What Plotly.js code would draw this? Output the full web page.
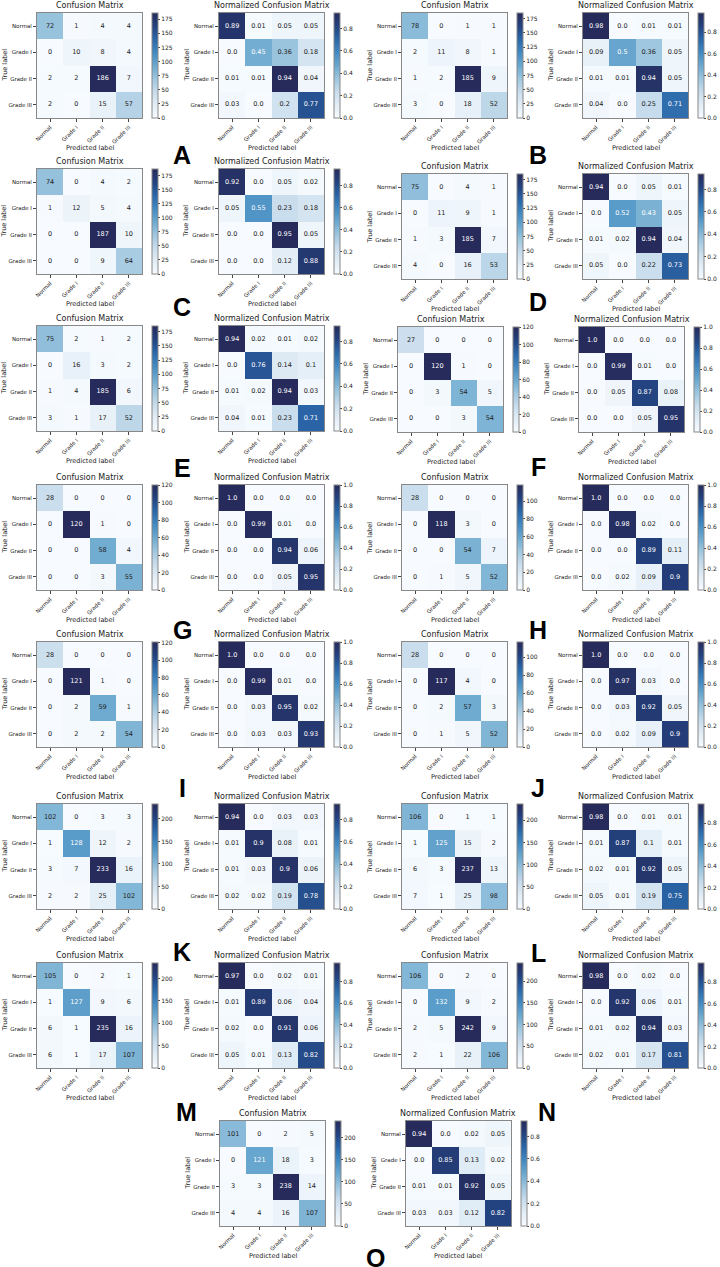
<!DOCTYPE html>
<html>
<head>
<meta charset="utf-8">
<script src="https://cdn.plot.ly/plotly-3.0.1.min.js"></script>
<style>
  html, body { margin: 0; padding: 0; background: #fff; }
  #chart { width: 720px; height: 1267px; }
</style>
</head>
<body>
<div id="chart"></div>
<script>
var labels = ['Normal', 'Grade I', 'Grade II', 'Grade III'];

var cmA = [[72, 1, 4, 4], [0, 10, 8, 4], [2, 2, 186, 7], [2, 0, 15, 57]];
var ncmA = [[0.89, 0.01, 0.05, 0.05], [0.0, 0.45, 0.36, 0.18], [0.01, 0.01, 0.94, 0.04], [0.03, 0.0, 0.2, 0.77]];
var cmB = [[78, 0, 1, 1], [2, 11, 8, 1], [1, 2, 185, 9], [3, 0, 18, 52]];
var ncmB = [[0.98, 0.0, 0.01, 0.01], [0.09, 0.5, 0.36, 0.05], [0.01, 0.01, 0.94, 0.05], [0.04, 0.0, 0.25, 0.71]];
var cmC = [[74, 0, 4, 2], [1, 12, 5, 4], [0, 0, 187, 10], [0, 0, 9, 64]];
var ncmC = [[0.92, 0.0, 0.05, 0.02], [0.05, 0.55, 0.23, 0.18], [0.0, 0.0, 0.95, 0.05], [0.0, 0.0, 0.12, 0.88]];
var cmD = [[75, 0, 4, 1], [0, 11, 9, 1], [1, 3, 185, 7], [4, 0, 16, 53]];
var ncmD = [[0.94, 0.0, 0.05, 0.01], [0.0, 0.52, 0.43, 0.05], [0.01, 0.02, 0.94, 0.04], [0.05, 0.0, 0.22, 0.73]];
var cmE = [[75, 2, 1, 2], [0, 16, 3, 2], [1, 4, 185, 6], [3, 1, 17, 52]];
var ncmE = [[0.94, 0.02, 0.01, 0.02], [0.0, 0.76, 0.14, 0.1], [0.01, 0.02, 0.94, 0.03], [0.04, 0.01, 0.23, 0.71]];
var cmF = [[27, 0, 0, 0], [0, 120, 1, 0], [0, 3, 54, 5], [0, 0, 3, 54]];
var ncmF = [[1.0, 0.0, 0.0, 0.0], [0.0, 0.99, 0.01, 0.0], [0.0, 0.05, 0.87, 0.08], [0.0, 0.0, 0.05, 0.95]];
var cmG = [[28, 0, 0, 0], [0, 120, 1, 0], [0, 0, 58, 4], [0, 0, 3, 55]];
var ncmG = [[1.0, 0.0, 0.0, 0.0], [0.0, 0.99, 0.01, 0.0], [0.0, 0.0, 0.94, 0.06], [0.0, 0.0, 0.05, 0.95]];
var cmH = [[28, 0, 0, 0], [0, 118, 3, 0], [0, 0, 54, 7], [0, 1, 5, 52]];
var ncmH = [[1.0, 0.0, 0.0, 0.0], [0.0, 0.98, 0.02, 0.0], [0.0, 0.0, 0.89, 0.11], [0.0, 0.02, 0.09, 0.9]];
var cmI = [[28, 0, 0, 0], [0, 121, 1, 0], [0, 2, 59, 1], [0, 2, 2, 54]];
var ncmI = [[1.0, 0.0, 0.0, 0.0], [0.0, 0.99, 0.01, 0.0], [0.0, 0.03, 0.95, 0.02], [0.0, 0.03, 0.03, 0.93]];
var cmJ = [[28, 0, 0, 0], [0, 117, 4, 0], [0, 2, 57, 3], [0, 1, 5, 52]];
var ncmJ = [[1.0, 0.0, 0.0, 0.0], [0.0, 0.97, 0.03, 0.0], [0.0, 0.03, 0.92, 0.05], [0.0, 0.02, 0.09, 0.9]];
var cmK = [[102, 0, 3, 3], [1, 128, 12, 2], [3, 7, 233, 16], [2, 2, 25, 102]];
var ncmK = [[0.94, 0.0, 0.03, 0.03], [0.01, 0.9, 0.08, 0.01], [0.01, 0.03, 0.9, 0.06], [0.02, 0.02, 0.19, 0.78]];
var cmL = [[106, 0, 1, 1], [1, 125, 15, 2], [6, 3, 237, 13], [7, 1, 25, 98]];
var ncmL = [[0.98, 0.0, 0.01, 0.01], [0.01, 0.87, 0.1, 0.01], [0.02, 0.01, 0.92, 0.05], [0.05, 0.01, 0.19, 0.75]];
var cmM = [[105, 0, 2, 1], [1, 127, 9, 6], [6, 1, 235, 16], [6, 1, 17, 107]];
var ncmM = [[0.97, 0.0, 0.02, 0.01], [0.01, 0.89, 0.06, 0.04], [0.02, 0.0, 0.91, 0.06], [0.05, 0.01, 0.13, 0.82]];
var cmN = [[106, 0, 2, 0], [0, 132, 9, 2], [2, 5, 242, 9], [2, 1, 22, 106]];
var ncmN = [[0.98, 0.0, 0.02, 0.0], [0.0, 0.92, 0.06, 0.01], [0.01, 0.02, 0.94, 0.03], [0.02, 0.01, 0.17, 0.81]];
var cmO = [[101, 0, 2, 5], [0, 121, 18, 3], [3, 3, 238, 14], [4, 4, 16, 107]];
var ncmO = [[0.94, 0.0, 0.02, 0.05], [0.0, 0.85, 0.13, 0.02], [0.01, 0.01, 0.92, 0.05], [0.03, 0.03, 0.12, 0.82]];

// panel placement in pixels: left edge of CM and NCM heatmaps, top edge, letter position
var panels = [
  {id: 'A', cm: cmA, ncm: ncmA, cx: 37,  nx: 219, top: 13,   lx: 182, ly: 155},
  {id: 'B', cm: cmB, ncm: ncmB, cx: 402, nx: 583, top: 13,   lx: 538, ly: 155},
  {id: 'C', cm: cmC, ncm: ncmC, cx: 37,  nx: 219, top: 169,  lx: 182, ly: 307},
  {id: 'D', cm: cmD, ncm: ncmD, cx: 402, nx: 583, top: 174,  lx: 538, ly: 302},
  {id: 'E', cm: cmE, ncm: ncmE, cx: 37,  nx: 219, top: 326,  lx: 182, ly: 468},
  {id: 'F', cm: cmF, ncm: ncmF, cx: 398, nx: 579, top: 327,  lx: 538, ly: 467},
  {id: 'G', cm: cmG, ncm: ncmG, cx: 37,  nx: 219, top: 485,  lx: 182, ly: 630},
  {id: 'H', cm: cmH, ncm: ncmH, cx: 402, nx: 583, top: 485,  lx: 538, ly: 630},
  {id: 'I', cm: cmI, ncm: ncmI, cx: 37,  nx: 219, top: 642,  lx: 182, ly: 788},
  {id: 'J', cm: cmJ, ncm: ncmJ, cx: 402, nx: 583, top: 642,  lx: 538, ly: 788},
  {id: 'K', cm: cmK, ncm: ncmK, cx: 37,  nx: 219, top: 804,  lx: 182, ly: 952},
  {id: 'L', cm: cmL, ncm: ncmL, cx: 402, nx: 583, top: 804,  lx: 538, ly: 953},
  {id: 'M', cm: cmM, ncm: ncmM, cx: 37,  nx: 219, top: 963,  lx: 186, ly: 1112},
  {id: 'N', cm: cmN, ncm: ncmN, cx: 402, nx: 583, top: 963,  lx: 547, ly: 1112},
  {id: 'O', cm: cmO, ncm: ncmO, cx: 220, nx: 406, top: 1121, lx: 375, ly: 1258}
];

var W = 720, H = 1267, S = 105;
var FONT = 'DejaVu Sans, Arial, sans-serif';

var blues = [
  [0.0, '#f7fbff'], [0.125, '#e2edf6'], [0.25, '#c8dcec'], [0.375, '#9dc6df'],
  [0.5, '#6aa8cf'], [0.625, '#4289c1'], [0.75, '#2a66a8'], [0.875, '#23427f'],
  [1.0, '#272b5c']
];

function fx(px) { return px / W; }
function fy(py) { return 1 - py / H; }

function fmt(v, norm) {
  if (!norm) return String(v);
  return Number.isInteger(v) ? v.toFixed(1) : String(v);
}

function maxOf(m) {
  var mx = 0;
  m.forEach(function(r) { r.forEach(function(v) { if (v > mx) mx = v; }); });
  return mx;
}

function tickStep(mx, norm) {
  if (norm) return 0.2;
  if (mx > 200) return 50;
  if (mx > 150) return 25;
  return 20;
}

var data = [];
var layout = {
  width: W, height: H,
  margin: {l: 0, r: 0, t: 0, b: 0},
  paper_bgcolor: '#fff', plot_bgcolor: '#fff',
  showlegend: false,
  font: {family: FONT, color: '#222'},
  annotations: []
};

var k = 0;
function addMatrix(m, norm, x0, y0) {
  k += 1;
  var xa = k === 1 ? 'x' : 'x' + k;
  var ya = k === 1 ? 'y' : 'y' + k;
  var mx = maxOf(m);

  data.push({
    type: 'heatmap', z: m, x: labels, y: labels,
    xaxis: xa, yaxis: ya,
    colorscale: blues, zmin: 0, zmax: mx,
    hoverinfo: 'skip',
    colorbar: {
      x: fx(x0 + S + 10), xanchor: 'left', xpad: 0,
      y: fy(y0 + S), yanchor: 'bottom', ypad: 0,
      len: S, lenmode: 'pixels', thickness: 6,
      outlinewidth: 1, outlinecolor: '#888',
      ticks: 'outside', ticklen: 2, tickcolor: '#444',
      tick0: 0, dtick: tickStep(mx, norm),
      tickformat: norm ? '.1f' : 'd',
      tickfont: {size: 6, family: FONT, color: '#222'}
    }
  });

  var tx = [], ty = [], tt = [], tc = [];
  var thresh = norm ? 0.4 : mx / 2;
  for (var i = 0; i < 4; i++) {
    for (var j = 0; j < 4; j++) {
      tx.push(labels[j]); ty.push(labels[i]);
      tt.push(fmt(m[i][j], norm));
      tc.push(m[i][j] > thresh ? '#ffffff' : '#222222');
    }
  }
  data.push({
    type: 'scatter', mode: 'text', x: tx, y: ty, text: tt,
    xaxis: xa, yaxis: ya, hoverinfo: 'skip',
    textfont: {size: 6.5, family: FONT, color: tc}
  });

  var axBase = {
    showline: true, mirror: true, linecolor: '#888', linewidth: 1,
    showgrid: false, zeroline: false, ticks: 'outside', ticklen: 3,
    tickcolor: '#444', tickfont: {size: 5.5, family: FONT, color: '#222'},
    fixedrange: true, type: 'category'
  };
  layout['xaxis' + (k === 1 ? '' : k)] = Object.assign({}, axBase, {
    domain: [fx(x0), fx(x0 + S)], anchor: ya, tickangle: -45
  });
  layout['yaxis' + (k === 1 ? '' : k)] = Object.assign({}, axBase, {
    domain: [fy(y0 + S), fy(y0)], anchor: xa, autorange: 'reversed'
  });

  layout.annotations.push(
    {text: norm ? 'Normalized Confusion Matrix' : 'Confusion Matrix',
     xref: 'paper', yref: 'paper', x: fx(x0 + S / 2), y: fy(y0 - 1),
     xanchor: 'center', yanchor: 'bottom', showarrow: false,
     font: {size: 8, family: FONT, color: '#222'}},
    {text: 'Predicted label',
     xref: 'paper', yref: 'paper', x: fx(x0 + S / 2), y: fy(y0 + S + 30),
     xanchor: 'center', yanchor: 'middle', showarrow: false,
     font: {size: 6.5, family: FONT, color: '#222'}},
    {text: 'True label', textangle: -90,
     xref: 'paper', yref: 'paper', x: fx(x0 - 33), y: fy(y0 + S / 2),
     xanchor: 'center', yanchor: 'middle', showarrow: false,
     font: {size: 6.5, family: FONT, color: '#222'}}
  );
}

panels.forEach(function(p) {
  addMatrix(p.cm, false, p.cx, p.top);
  addMatrix(p.ncm, true, p.nx, p.top);
  layout.annotations.push({
    text: '<b>' + p.id + '</b>', xref: 'paper', yref: 'paper',
    x: fx(p.lx), y: fy(p.ly), xanchor: 'center', yanchor: 'middle',
    showarrow: false,
    font: {size: 25, family: 'Liberation Sans, Arial, sans-serif', color: '#000'}
  });
});

Plotly.newPlot('chart', data, layout, {displayModeBar: false, staticPlot: true});
</script>
</body>
</html>
